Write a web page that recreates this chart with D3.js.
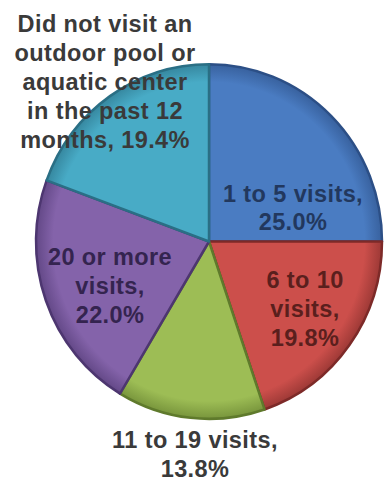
<!DOCTYPE html>
<html><head><meta charset="utf-8">
<script src="https://cdn.jsdelivr.net/npm/d3@7"></script>
<style>html,body{margin:0;padding:0;background:#fff;}svg{display:block;}</style>
</head><body>
<svg id="chart" width="387" height="481"></svg>
<script>
const categories = ["1 to 5 visits", "6 to 10 visits", "11 to 19 visits", "20 or more visits", "Did not visit an outdoor pool or aquatic center in the past 12 months"];
const values = [25.0, 19.8, 13.8, 22.0, 19.4];
const colors = ["#4a7cc2", "#cc4f4b", "#9dbd55", "#8463aa", "#48abc6"];
const edgeColors = ["#2c4f86", "#7d2a28", "#5f7a2c", "#4d3670", "#2a6f85"];
const labelColors = ["#22385e", "#5a1f1d", "#3a3a3a", "#34244f", "#3a3a3a"];
const labelLines = [
  ["1 to 5 visits,", "25.0%"],
  ["6 to 10", "visits,", "19.8%"],
  ["11 to 19 visits,", "13.8%"],
  ["20 or more", "visits,", "22.0%"],
  ["Did not visit an", "outdoor pool or", "aquatic center", "in the past 12", "months, 19.4%"]
];

const svg = d3.select("#chart");
const cx = 209, cy = 241.5, r = 173;
const defs = svg.append("defs");
colors.forEach((c, i) => {
  const g = defs.append("radialGradient").attr("id", "g" + i)
    .attr("gradientUnits", "userSpaceOnUse").attr("cx", 0).attr("cy", 0).attr("r", r);
  g.append("stop").attr("offset", "0%").attr("stop-color", c);
  g.append("stop").attr("offset", "90%").attr("stop-color", c);
  g.append("stop").attr("offset", "100%").attr("stop-color", d3.interpolateRgb(c, edgeColors[i])(0.6));
});

const data = categories.map((c, i) => ({ cat: c, value: values[i], i }));
const pie = d3.pie().sort(null).value(d => d.value);
const arc = d3.arc().innerRadius(0).outerRadius(r);
const arcs = pie(data);

const g = svg.append("g").attr("transform", `translate(${cx},${cy}) scale(1,1.025)`);
g.selectAll("path.slice").data(arcs).enter().append("path")
  .attr("class", "slice")
  .attr("d", arc)
  .attr("fill", d => `url(#g${d.data.i})`)
  .attr("stroke", d => edgeColors[d.data.i])
  .attr("stroke-width", 2.5)
  .attr("stroke-linejoin", "round");

// label placement: [x, first baseline y, line height]
const labelPos = [
  [293, 202, 27.5],
  [305, 288, 29],
  [195, 448, 29],
  [110, 265, 29],
  [105, 32, 29]
];
arcs.forEach(d => {
  const i = d.data.i;
  const [x, y, lh] = labelPos[i];
  const t = svg.append("text")
    .attr("text-anchor", "middle")
    .attr("font-family", "Liberation Sans, Arial, sans-serif")
    .attr("font-weight", "bold")
    .attr("font-size", 23.5)
    .attr("letter-spacing", 0.4)
    .attr("fill", labelColors[i]);
  labelLines[i].forEach((ln, k) => {
    t.append("tspan").attr("x", x).attr("y", y + k * lh).text(ln);
  });
});
</script>
</body></html>
